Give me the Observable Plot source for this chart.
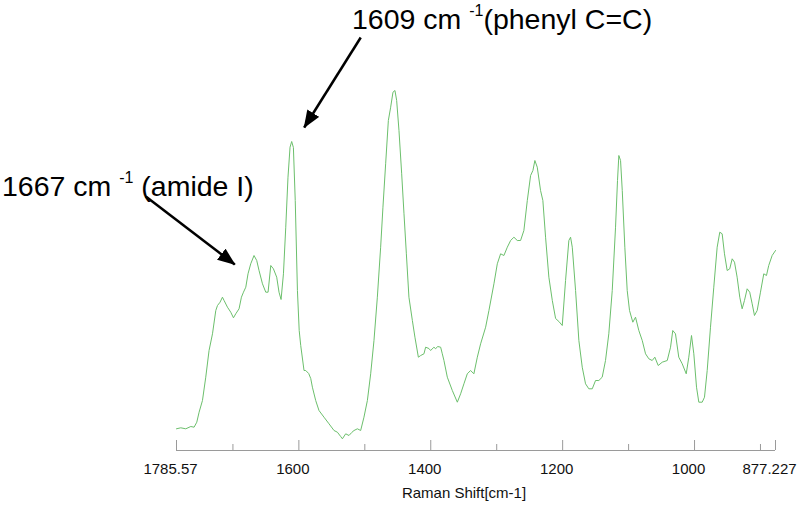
<!DOCTYPE html>
<html>
<head>
<meta charset="utf-8">
<script src="https://cdn.jsdelivr.net/npm/d3@7"></script>
<script src="https://cdn.jsdelivr.net/npm/@observablehq/plot@0.6"></script>
<style>
  html, body { margin: 0; padding: 0; background: #fff; }
</style>
</head>
<body>
<div id="chart"></div>
<script>
// Raman shift (cm-1) and intensity (arbitrary units)
const wavenumber = [
  1785.6, 1779.1, 1771.5, 1763.9, 1758.9, 1754.8, 1751.3, 1746.2, 1741.2, 1736.2,
  1731.0, 1726.0, 1723.4, 1719.5, 1715.9, 1713.4, 1708.3, 1703.3, 1699.2, 1695.7,
  1690.7, 1687.1, 1684.0, 1680.5, 1677.1, 1673.0, 1668.0, 1663.9, 1660.4, 1655.2,
  1650.2, 1646.7, 1642.6, 1638.6, 1633.6, 1630.1, 1627.0, 1623.4, 1619.9, 1616.5,
  1613.4, 1610.9, 1608.3, 1605.5, 1602.2, 1599.5, 1597.2, 1592.2, 1589.6, 1585.1,
  1582.0, 1579.5, 1574.5, 1569.5, 1561.9, 1554.3, 1546.7, 1541.6, 1536.6, 1534.0,
  1529.0, 1524.0, 1519.9, 1516.4, 1511.3, 1506.3, 1501.3, 1496.1, 1491.1, 1486.1,
  1481.0, 1476.0, 1472.5, 1468.4, 1464.3, 1460.8, 1457.3, 1454.3, 1451.7, 1448.2,
  1444.1, 1440.6, 1437.0, 1433.1, 1427.9, 1424.0, 1418.8, 1415.3, 1410.3, 1407.8,
  1402.8, 1400.2, 1395.2, 1392.6, 1389.6, 1385.0, 1382.5, 1380.0, 1374.9, 1367.3,
  1359.7, 1354.7, 1349.7, 1344.6, 1339.6, 1334.6, 1329.4, 1324.4, 1316.8, 1311.8,
  1304.2, 1299.1, 1294.1, 1289.1, 1283.9, 1278.9, 1273.9, 1268.8, 1263.8, 1258.8,
  1253.6, 1248.6, 1245.1, 1242.1, 1238.5, 1233.5, 1230.0, 1225.9, 1220.9, 1215.7,
  1210.7, 1205.7, 1200.6, 1195.6, 1190.6, 1188.0, 1185.4, 1180.4, 1175.4, 1170.3,
  1165.3, 1160.3, 1155.1, 1150.1, 1145.1, 1140.0, 1135.0, 1130.0, 1124.8, 1119.8,
  1116.8, 1114.8, 1112.2, 1109.6, 1105.7, 1102.1, 1098.6, 1093.6, 1089.5, 1084.5,
  1079.3, 1074.3, 1069.3, 1064.2, 1060.2, 1055.1, 1049.0, 1041.4, 1036.4, 1033.0,
  1028.9, 1023.9, 1018.7, 1012.6, 1008.7, 1004.6, 1001.1, 997.0, 993.5, 988.4,
  984.9, 980.8, 975.8, 970.8, 965.7, 961.7, 958.1, 954.6, 950.5, 946.6,
  942.9, 939.4, 935.4, 931.4, 927.8, 924.3, 920.2, 916.3, 912.6, 909.1,
  905.0, 900.0, 895.0, 890.9, 887.5, 882.3, 877.2
];
const intensity = [
  21.7, 22.7, 21.7, 24.0, 23.3, 28.3, 38.3, 50.0, 73.3, 100.0,
  116.7, 140.0, 145.0, 148.3, 153.3, 150.0, 143.3, 138.3, 132.7, 136.7,
  141.7, 153.3, 158.3, 163.3, 176.7, 186.7, 195.0, 190.0, 180.0, 166.7,
  158.3, 158.3, 185.0, 181.7, 173.3, 158.3, 151.0, 176.7, 223.3, 273.3,
  303.3, 309.0, 303.0, 250.0, 160.0, 120.0, 105.0, 80.0, 80.0, 77.0,
  72.0, 63.3, 50.0, 40.0, 33.3, 26.7, 20.0, 18.3, 14.0, 11.7,
  16.7, 15.0, 18.0, 20.0, 21.7, 20.0, 33.3, 50.0, 76.7, 110.0,
  153.3, 203.3, 243.3, 286.7, 330.0, 343.3, 358.3, 360.0, 350.0, 320.0,
  276.7, 236.7, 196.7, 153.3, 130.0, 113.3, 93.3, 95.0, 96.7, 103.3,
  102.0, 100.0, 103.3, 101.7, 104.0, 103.3, 96.7, 90.0, 73.3, 60.0,
  48.3, 56.7, 66.7, 76.7, 80.0, 76.7, 93.3, 106.7, 123.3, 140.0,
  166.7, 186.7, 196.7, 195.0, 203.3, 210.0, 213.3, 210.0, 210.0, 220.0,
  250.0, 275.0, 280.0, 290.0, 283.3, 260.0, 250.0, 213.3, 173.3, 150.0,
  132.0, 129.0, 125.0, 170.0, 210.0, 213.3, 203.3, 160.0, 110.0, 83.3,
  66.7, 61.7, 61.7, 70.0, 70.0, 73.3, 90.0, 116.7, 160.0, 223.3,
  270.0, 295.0, 290.0, 260.0, 203.3, 160.0, 140.0, 128.3, 133.3, 120.0,
  110.0, 96.7, 91.7, 90.0, 93.3, 85.0, 88.3, 90.0, 103.3, 120.0,
  116.7, 93.3, 86.7, 76.7, 93.3, 115.0, 96.7, 63.3, 48.3, 48.3,
  53.3, 80.0, 123.3, 163.3, 203.3, 218.3, 216.7, 196.7, 180.0, 181.7,
  191.7, 188.3, 173.3, 153.3, 141.7, 150.0, 161.7, 158.3, 146.7, 135.0,
  140.0, 158.3, 176.7, 175.0, 185.0, 195.0, 200.0
];

// Axis ticks
const majorTicks = [1785.57, 1600, 1400, 1200, 1000, 877.227];
const majorTickLabels = ["1785.57", "1600", "1400", "1200", "1000", "877.227"];
const minorTicks = [1700, 1500, 1300, 1100, 900];
const xAxisTitle = "Raman Shift[cm-1]";

// Annotations (data coordinates: cm-1, intensity)
const annoMain = ["1667 cm", "1609 cm"];
const annoSup = ["-1", "-1"];
const annoRest = [" (amide I)", "(phenyl C=C)"];
const annoTextX = [2050.3, 1519.5];
const annoTextY = [255, 421.5];
const arrowX1 = [1832.1, 1506.2];
const arrowY1 = [254, 413];
const arrowX2 = [1697.2, 1591.9];
const arrowY2 = [186, 323];

const spectrum = wavenumber.map((w, i) => ({w, v: intensity[i]}));
const ticks = majorTicks.map((t, i) => ({t, label: majorTickLabels[i]}));
const annos = annoMain.map((m, i) => ({
  main: m, sup: annoSup[i], rest: annoRest[i],
  x: annoTextX[i], y: annoTextY[i],
  x1: arrowX1[i], y1: arrowY1[i], x2: arrowX2[i], y2: arrowY2[i]
}));

const svg = Plot.plot({
  width: 800,
  height: 507,
  marginLeft: 176,
  marginRight: 25,
  marginTop: 0,
  marginBottom: 57,
  x: {domain: [1785.57, 877.227], axis: null},
  y: {domain: [0, 450], axis: null},
  style: {fontFamily: "'Liberation Sans', Arial, Helvetica, sans-serif", background: "#fff", overflow: "visible"},
  marks: [
    Plot.ruleY([0], {stroke: "#9a9a9a", strokeWidth: 1}),
    Plot.ruleX(majorTicks, {y1: 0, y2: 10, stroke: "#9a9a9a", strokeWidth: 1}),
    Plot.ruleX(minorTicks, {y1: 0, y2: 6, stroke: "#9a9a9a", strokeWidth: 1}),
    Plot.text(ticks, {x: "t", y: 0, text: "label", lineAnchor: "top", dy: 13, dx: -6, fontSize: 15, fill: "#111"}),
    Plot.text([xAxisTitle], {frameAnchor: "bottom", lineAnchor: "top", dy: 37, dx: -12, fontSize: 15, fill: "#111"}),
    Plot.line(spectrum, {x: "w", y: "v", stroke: "#6cbf6c", strokeWidth: 1}),
    Plot.link(annos, {x1: "x1", y1: "y1", x2: "x2", y2: "y2", stroke: "#000", strokeWidth: 2.5, ariaDescription: "arrows"}),
    Plot.text(annos, {x: "x", y: "y", text: d => d.main + " " + d.sup + d.rest, textAnchor: "start", lineAnchor: "bottom", fontSize: 28.5, fill: "#000", ariaDescription: "annotation"})
  ]
});

// Filled arrowheads
const sel = d3.select(svg);
const defs = sel.append("defs");
defs.append("marker")
  .attr("id", "ahead")
  .attr("viewBox", "0 0 18 14")
  .attr("refX", 17)
  .attr("refY", 7)
  .attr("markerWidth", 18)
  .attr("markerHeight", 14)
  .attr("markerUnits", "userSpaceOnUse")
  .attr("orient", "auto")
  .append("path")
  .attr("d", "M0,0 L18,7 L0,14 Z")
  .attr("fill", "#000");
sel.selectAll('g[aria-description="arrows"] path').attr("marker-end", "url(#ahead)");

// Superscripts in annotation labels
sel.selectAll('g[aria-description="annotation"] text').each(function(d, i) {
  const a = annos[i];
  const t = d3.select(this);
  t.text(null);
  t.append("tspan").text(a.main + " ");
  t.append("tspan").attr("font-size", 16).attr("dy", -13).text(a.sup);
  t.append("tspan").attr("dy", 13).text(a.rest);
});

document.getElementById("chart").appendChild(svg);
</script>
</body>
</html>
